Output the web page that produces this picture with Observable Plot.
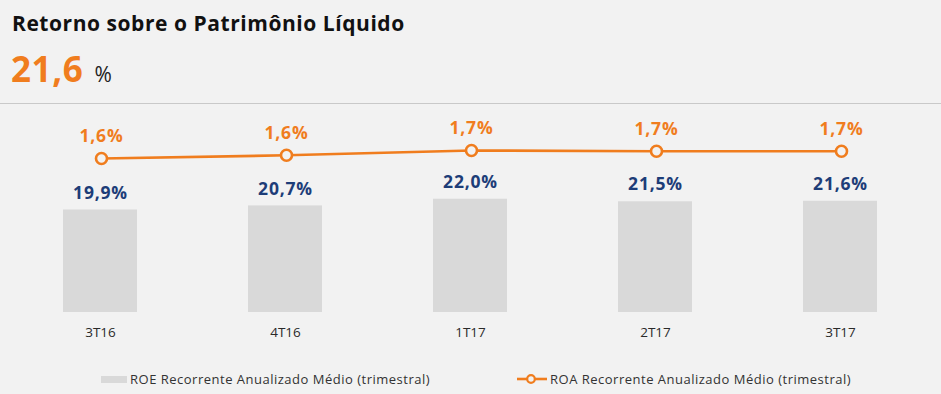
<!DOCTYPE html>
<html>
<head>
<meta charset="utf-8">
<script src="https://cdn.jsdelivr.net/npm/d3@7"></script>
<script src="https://cdn.jsdelivr.net/npm/@observablehq/plot@0.6"></script>
<style>
  html, body { margin: 0; padding: 0; background: #f2f2f2; }
  body { width: 941px; height: 394px; position: relative; overflow: hidden; font-family: "Open Sans", "Noto Sans", sans-serif; }
  #title { position: absolute; left: 12px; top: 8px; font-size: 21px; font-weight: 700; color: #111; letter-spacing: 0.55px; line-height: 30px; }
  #kpi { position: absolute; left: 11px; top: 46px; color: #f07d1e; font-size: 35px; font-weight: 700; line-height: 46px; letter-spacing: 0.6px; }
  #kpi span { color: #222; font-size: 21px; font-weight: 400; margin-left: 11px; letter-spacing: 0; }
  #sep { position: absolute; left: 0; top: 103px; width: 941px; height: 0; border-top: 1.5px solid #c9c9c9; }
  #chart { position: absolute; left: 0; top: 106px; width: 941px; height: 240px; }
  #chart > svg { position: absolute; left: 0; top: 0; }
  #legend { position: absolute; left: 0; top: 369px; width: 941px; height: 20px; font-size: 13px; letter-spacing: 0.5px; color: #333; }
  .item { position: absolute; top: 0; display: flex; align-items: center; height: 20px; white-space: nowrap; }
</style>
</head>
<body>
<div id="title">Retorno sobre o Patrimônio Líquido</div>
<div id="kpi">21,6<span>%</span></div>
<div id="sep"></div>
<div id="chart"></div>
<div id="legend"></div>
<script>
const quarters = ["3T16", "4T16", "1T17", "2T17", "3T17"];
const roeValues = [19.9, 20.7, 22.0, 21.5, 21.6];
const roaValues = [1.60, 1.64, 1.70, 1.69, 1.69];
const headline = "21,6";
const roeName = "ROE Recorrente Anualizado Médio (trimestral)";
const roaName = "ROA Recorrente Anualizado Médio (trimestral)";

const orange = "#f07d1e";
const navy = "#1d3d78";
const barGray = "#d9d9d9";
const bg = "#f2f2f2";

const fmt = v => d3.format(".1f")(v).replace(".", ",") + "%";

const roeData = quarters.map((q, i) => ({q, v: roeValues[i]}));
const roaData = quarters.map((q, i) => ({q, v: roaValues[i]}));

const W = 941, H = 240;
const common = {
  width: W, height: H,
  marginLeft: 6, marginRight: 6, marginTop: 0, marginBottom: 34,
  style: {background: "transparent", fontFamily: "'Open Sans', 'Noto Sans', sans-serif", overflow: "visible", fontSize: "13.5px"}
};

const bars = Plot.plot({
  ...common,
  x: {type: "band", domain: quarters, paddingInner: 0.6, paddingOuter: 0.3, label: null, tickSize: 0, tickPadding: 15},
  y: {domain: [0, 40], axis: null},
  marks: [
    Plot.barY(roeData, {x: "q", y: "v", fill: barGray}),
    Plot.text(roeData, {x: "q", y: "v", text: d => fmt(d.v), dy: -17, fill: navy, fontSize: 17.5, fontWeight: 700})
  ]
});
d3.select(bars).selectAll("g[aria-label='x-axis tick label']").attr("fill", "#2a2a2a");
d3.select(bars).selectAll("g[aria-label='text'] text").style("letter-spacing", "0.8px");

const line = Plot.plot({
  ...common,
  x: {type: "point", domain: quarters, padding: 0.5, axis: null},
  y: {domain: [-0.325, 2.25], axis: null},
  marks: [
    Plot.line(roaData, {x: "q", y: "v", stroke: orange, strokeWidth: 2.6}),
    Plot.dot(roaData, {x: "q", y: "v", r: 5.5, stroke: orange, strokeWidth: 2.6, fill: bg}),
    Plot.text(roaData, {x: "q", y: "v", text: d => fmt(d.v), dy: -22, fill: orange, fontSize: 17.5, fontWeight: 700})
  ]
});
d3.select(line).selectAll("g[aria-label='text'] text").style("letter-spacing", "0.8px");

const chart = document.getElementById("chart");
chart.appendChild(bars);
chart.appendChild(line);

document.getElementById("kpi").firstChild.textContent = headline;

const legend = d3.select("#legend");
const i1 = legend.append("div").attr("class", "item").style("left", "101px");
i1.append("div").style("width", "26px").style("height", "7px").style("background", barGray).style("margin-right", "3px");
i1.append("span").text(roeName);

const i2 = legend.append("div").attr("class", "item").style("left", "516px");
const sw = i2.append("svg").attr("width", 32).attr("height", 12).style("margin-right", "2px");
sw.append("line").attr("x1", 1).attr("x2", 31).attr("y1", 6).attr("y2", 6).attr("stroke", orange).attr("stroke-width", 2.6);
sw.append("circle").attr("cx", 15).attr("cy", 6).attr("r", 3.8).attr("fill", bg).attr("stroke", orange).attr("stroke-width", 2.2);
i2.append("span").text(roaName);
</script>
</body>
</html>
